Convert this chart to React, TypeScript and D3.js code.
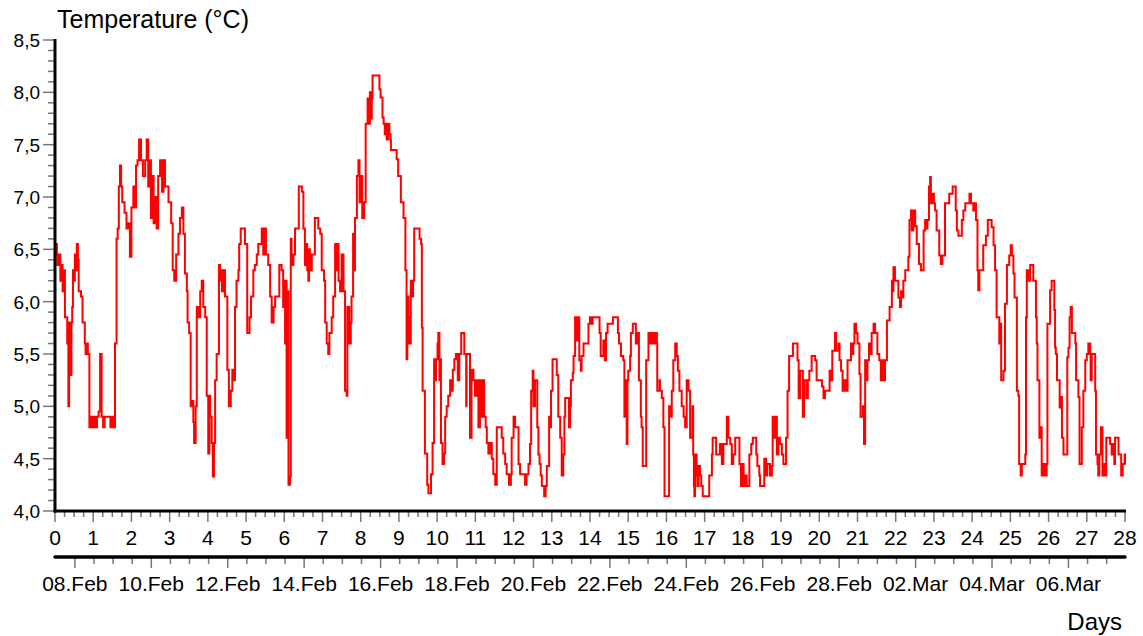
import React from "react";
import * as d3 from "d3";

// readings: [day, °C]
const week1: [number, number][] = [
  [0.0, 6.35], [0.02, 6.55], [0.05, 6.45], [0.08, 6.35], [0.11, 6.45], [0.14, 6.2], [0.17, 6.35], [0.2, 6.1],
  [0.23, 6.3], [0.26, 5.85], [0.32, 5.6], [0.35, 5.0], [0.37, 5.8], [0.4, 5.3], [0.43, 5.8], [0.45, 5.95],
  [0.47, 6.3], [0.5, 6.2], [0.52, 6.45], [0.55, 6.3], [0.57, 6.55], [0.6, 6.4], [0.62, 6.1], [0.68, 6.05],
  [0.72, 5.8], [0.78, 5.6], [0.8, 5.5], [0.83, 5.6], [0.86, 5.5], [0.9, 4.8], [0.95, 4.9], [0.98, 4.8],
  [1.02, 4.9], [1.06, 4.8], [1.1, 4.9], [1.14, 4.95], [1.18, 5.5], [1.22, 4.9], [1.26, 4.8], [1.3, 4.9],
  [1.45, 4.8], [1.5, 4.9], [1.55, 4.8], [1.57, 5.6], [1.61, 6.6], [1.64, 6.7], [1.67, 7.1], [1.7, 7.3],
  [1.73, 7.1], [1.76, 6.95], [1.82, 6.85], [1.87, 6.7], [1.92, 6.75], [1.96, 6.43], [2.0, 6.9], [2.05, 7.1],
  [2.08, 6.9], [2.12, 7.3], [2.16, 7.35], [2.2, 7.55], [2.25, 7.35], [2.3, 7.2], [2.36, 7.35], [2.4, 7.55],
  [2.44, 7.1], [2.48, 7.35], [2.51, 6.8], [2.55, 7.2], [2.58, 6.75], [2.62, 7.0], [2.66, 6.7], [2.7, 7.2],
  [2.75, 7.35], [2.8, 7.05], [2.84, 7.35], [2.88, 7.1], [2.97, 6.95], [3.04, 6.75], [3.08, 6.3], [3.12, 6.2],
  [3.17, 6.45], [3.23, 6.65], [3.27, 6.8], [3.32, 6.9], [3.36, 6.65], [3.4, 6.27], [3.45, 6.1], [3.47, 5.8],
  [3.51, 5.7], [3.55, 5.0], [3.6, 5.05], [3.62, 4.85], [3.64, 4.65], [3.68, 5.0], [3.71, 5.95], [3.75, 5.85],
  [3.8, 6.1], [3.84, 6.2], [3.88, 5.95], [3.93, 5.85], [3.97, 5.1], [4.01, 4.55], [4.04, 5.1], [4.06, 4.9],
  [4.1, 4.65], [4.13, 4.33], [4.16, 4.65], [4.19, 5.25], [4.23, 5.5], [4.29, 6.35], [4.32, 6.2], [4.34, 6.3],
  [4.37, 6.1], [4.41, 6.3], [4.45, 6.05], [4.51, 5.35], [4.55, 5.0], [4.6, 5.15], [4.64, 5.35], [4.69, 5.25],
  [4.71, 5.95], [4.75, 6.2], [4.8, 6.3], [4.82, 6.55], [4.86, 6.7], [4.97, 6.55], [5.03, 5.7], [5.09, 5.85],
  [5.13, 6.05], [5.19, 6.3], [5.23, 6.35], [5.28, 6.45], [5.32, 6.55], [5.41, 6.7], [5.45, 6.45], [5.48, 6.7],
  [5.52, 6.45], [5.58, 6.35], [5.63, 6.05], [5.67, 5.8], [5.72, 5.95], [5.76, 6.05], [5.87, 6.35], [5.93, 6.3],
  [5.97, 5.95], [6.0, 6.2], [6.02, 5.6], [6.04, 6.2], [6.06, 4.7], [6.09, 6.1], [6.11, 4.25], [6.15, 4.33],
  [6.17, 6.6], [6.19, 6.35], [6.24, 6.45], [6.28, 6.7], [6.38, 7.1], [6.46, 7.05], [6.5, 6.7], [6.54, 6.35],
  [6.57, 6.55], [6.6, 6.3], [6.63, 6.2], [6.65, 6.5], [6.67, 6.3], [6.72, 6.45], [6.8, 6.8], [6.89, 6.7],
  [6.94, 6.65], [6.98, 6.3],
];

const week2: [number, number][] = [
  [7.04, 6.2], [7.07, 5.8], [7.11, 5.6], [7.15, 5.5], [7.18, 5.7], [7.24, 5.85], [7.28, 6.05], [7.33, 6.55],
  [7.36, 6.3], [7.4, 6.55], [7.42, 6.2], [7.46, 6.1], [7.5, 6.45], [7.55, 6.1], [7.59, 5.15], [7.63, 5.1],
  [7.65, 5.95], [7.7, 5.6], [7.74, 5.8], [7.76, 6.05], [7.8, 6.65], [7.83, 6.3], [7.85, 6.8], [7.9, 7.2],
  [7.94, 7.35], [7.97, 6.95], [8.0, 7.2], [8.04, 6.8], [8.09, 6.95], [8.13, 7.7], [8.18, 7.94], [8.22, 7.7],
  [8.24, 8.0], [8.27, 7.75], [8.29, 7.94], [8.31, 8.16], [8.47, 8.16], [8.49, 8.03], [8.52, 7.95], [8.57, 7.76],
  [8.6, 7.7], [8.63, 7.6], [8.65, 7.7], [8.68, 7.55], [8.72, 7.7], [8.75, 7.6], [8.78, 7.55], [8.79, 7.45],
  [8.92, 7.45], [8.94, 7.36], [8.98, 7.2], [9.05, 6.95], [9.12, 6.8], [9.17, 6.3], [9.2, 5.45], [9.22, 6.05],
  [9.25, 5.85], [9.27, 5.6], [9.31, 6.2], [9.34, 6.05], [9.37, 6.2], [9.4, 6.7], [9.54, 6.6], [9.58, 6.55],
  [9.6, 5.75], [9.62, 5.15], [9.68, 4.55], [9.74, 4.25], [9.77, 4.17], [9.84, 4.35], [9.88, 4.65], [9.92, 5.45],
  [9.95, 5.25], [9.97, 5.45], [10.01, 5.6], [10.03, 5.7], [10.06, 5.25], [10.08, 5.45], [10.1, 4.65], [10.14, 4.45],
  [10.18, 4.55], [10.21, 4.9], [10.25, 5.0], [10.29, 5.1], [10.34, 5.25], [10.38, 5.15], [10.41, 5.35], [10.45, 5.45],
  [10.49, 5.5], [10.54, 5.25], [10.58, 5.5], [10.63, 5.7], [10.71, 5.5], [10.76, 5.0], [10.77, 5.5], [10.86, 4.7],
  [10.9, 5.35], [10.95, 5.25], [10.99, 5.1], [11.04, 5.25], [11.08, 4.8], [11.12, 5.25], [11.17, 4.9], [11.19, 5.25],
  [11.23, 4.9], [11.27, 4.8], [11.3, 4.65], [11.34, 4.55], [11.38, 4.65], [11.43, 4.5], [11.47, 4.35], [11.52, 4.25],
  [11.56, 4.8], [11.69, 4.7], [11.73, 4.55], [11.78, 4.45], [11.82, 4.35], [11.88, 4.25], [11.93, 4.35], [11.95, 4.7],
  [12.0, 4.9], [12.04, 4.8], [12.13, 4.45], [12.17, 4.35], [12.3, 4.25], [12.34, 4.35], [12.39, 4.45], [12.43, 4.64],
  [12.46, 5.15], [12.5, 5.34], [12.52, 5.0], [12.56, 5.25], [12.62, 4.8], [12.65, 4.54], [12.68, 4.45], [12.71, 4.34],
  [12.74, 4.24], [12.8, 4.14], [12.84, 4.24], [12.87, 4.43], [12.93, 4.9], [12.96, 4.8], [12.98, 5.15], [13.02, 5.45],
  [13.13, 5.3], [13.17, 4.9], [13.22, 4.7], [13.26, 4.34], [13.3, 4.54], [13.33, 4.9], [13.35, 5.08], [13.45, 4.8],
  [13.48, 5.0], [13.5, 5.25], [13.55, 5.32], [13.57, 5.48], [13.61, 5.85], [13.65, 5.63], [13.7, 5.85], [13.72, 5.44],
  [13.76, 5.34], [13.78, 5.48], [13.83, 5.6], [13.96, 5.79],
];

const week3: [number, number][] = [
  [14.0, 5.85], [14.05, 5.79], [14.07, 5.85], [14.25, 5.7], [14.28, 5.48], [14.35, 5.63], [14.39, 5.44], [14.42, 5.7],
  [14.46, 5.79], [14.6, 5.85], [14.73, 5.7], [14.76, 5.6], [14.81, 5.48], [14.87, 5.44], [14.9, 4.9], [14.94, 5.25],
  [14.96, 4.64], [14.98, 5.25], [15.0, 5.34], [15.05, 5.48], [15.07, 5.7], [15.12, 5.79], [15.2, 5.6], [15.24, 5.7],
  [15.28, 5.25], [15.33, 4.9], [15.35, 4.8], [15.38, 4.43], [15.47, 5.44], [15.53, 5.7], [15.57, 5.6], [15.62, 5.7],
  [15.66, 5.6], [15.7, 5.7], [15.75, 5.6], [15.76, 5.15], [15.82, 5.25], [15.83, 5.15], [15.88, 5.08], [15.92, 4.8],
  [15.95, 4.14], [16.07, 5.0], [16.11, 4.9], [16.14, 5.15], [16.18, 5.44], [16.23, 5.6], [16.27, 5.48], [16.3, 5.34],
  [16.34, 5.15], [16.4, 5.0], [16.45, 4.9], [16.49, 4.8], [16.53, 5.25], [16.58, 5.15], [16.62, 4.7], [16.68, 5.0],
  [16.7, 4.54], [16.72, 4.24], [16.73, 4.14], [16.75, 4.54], [16.79, 4.34], [16.81, 4.24], [16.84, 4.43], [16.88, 4.34],
  [16.91, 4.24], [16.95, 4.14], [17.12, 4.34], [17.19, 4.54], [17.21, 4.7], [17.3, 4.54], [17.4, 4.64], [17.45, 4.45],
  [17.49, 4.64], [17.58, 4.9], [17.62, 4.7], [17.67, 4.64], [17.71, 4.45], [17.75, 4.54], [17.8, 4.7], [17.91, 4.45],
  [17.95, 4.24], [17.99, 4.45], [18.02, 4.24], [18.06, 4.34], [18.1, 4.24], [18.17, 4.54], [18.22, 4.64], [18.26, 4.7],
  [18.35, 4.54], [18.38, 4.43], [18.43, 4.34], [18.45, 4.24], [18.56, 4.5], [18.61, 4.34], [18.64, 4.45], [18.71, 4.34],
  [18.76, 4.43], [18.78, 4.9], [18.83, 4.7], [18.86, 4.9], [18.89, 4.54], [18.93, 4.7], [18.97, 4.64], [19.02, 4.54],
  [19.06, 4.45], [19.13, 4.7], [19.17, 5.15], [19.21, 5.48], [19.31, 5.6], [19.43, 5.44], [19.46, 5.08], [19.5, 5.34],
  [19.57, 4.9], [19.6, 5.25], [19.66, 5.08], [19.7, 5.25], [19.74, 5.34], [19.8, 5.48], [19.89, 5.44], [19.93, 5.25],
  [20.07, 5.19], [20.11, 5.08], [20.15, 5.15], [20.27, 5.34], [20.31, 5.25], [20.34, 5.53], [20.41, 5.7], [20.44, 5.53],
  [20.5, 5.6], [20.53, 5.44], [20.57, 5.34], [20.61, 5.15], [20.65, 5.25], [20.69, 5.15], [20.74, 5.44], [20.83, 5.6],
  [20.87, 5.5], [20.89, 5.6], [20.92, 5.79], [20.96, 5.7],
];

const week4: [number, number][] = [
  [21.0, 5.6], [21.05, 5.31], [21.08, 4.9], [21.14, 5.0], [21.17, 4.64], [21.2, 5.44], [21.22, 5.25], [21.26, 5.44],
  [21.3, 5.6], [21.35, 5.5], [21.37, 5.7], [21.42, 5.79], [21.46, 5.7], [21.52, 5.5], [21.57, 5.44], [21.61, 5.25],
  [21.64, 5.44], [21.68, 5.25], [21.72, 5.44], [21.77, 5.82], [21.84, 5.95], [21.9, 6.2], [21.92, 6.1], [21.94, 6.33],
  [21.98, 6.2], [22.07, 6.04], [22.11, 5.95], [22.14, 6.1], [22.18, 6.04], [22.2, 6.2], [22.25, 6.3], [22.33, 6.43],
  [22.36, 6.78], [22.4, 6.87], [22.42, 6.68], [22.46, 6.87], [22.51, 6.72], [22.55, 6.55], [22.61, 6.36], [22.66, 6.3],
  [22.73, 6.68], [22.77, 6.78], [22.81, 6.7], [22.83, 6.78], [22.87, 7.1], [22.9, 7.19], [22.92, 6.94], [22.96, 7.03],
  [23.0, 6.94], [23.03, 6.87], [23.07, 6.68], [23.14, 6.44], [23.18, 6.36], [23.22, 6.44], [23.29, 6.94], [23.4, 7.03],
  [23.49, 7.1], [23.57, 6.87], [23.6, 6.68], [23.64, 6.63], [23.73, 6.78], [23.77, 6.87], [23.82, 6.94], [23.93, 7.03],
  [23.97, 6.94], [24.03, 6.87], [24.08, 6.94], [24.1, 6.78], [24.14, 6.3], [24.16, 6.11], [24.19, 6.3], [24.29, 6.54],
  [24.36, 6.63], [24.41, 6.78], [24.51, 6.71], [24.56, 6.54], [24.6, 6.3], [24.64, 5.85], [24.71, 5.6], [24.73, 5.79],
  [24.76, 5.25], [24.82, 5.34], [24.86, 5.98], [24.91, 6.35], [24.97, 6.44], [25.01, 6.54], [25.04, 6.44], [25.08, 6.27],
  [25.11, 6.04], [25.17, 5.15], [25.21, 5.1], [25.23, 4.45], [25.27, 4.34], [25.3, 4.45], [25.39, 4.54], [25.41, 5.85],
  [25.43, 6.3], [25.47, 6.2], [25.52, 6.35], [25.6, 6.2], [25.67, 5.85], [25.69, 5.6], [25.71, 5.25], [25.76, 4.7],
  [25.8, 4.8], [25.82, 4.34], [25.87, 4.45], [25.91, 4.34], [25.95, 4.45], [25.97, 5.79], [26.04, 6.11], [26.08, 6.2],
  [26.15, 5.92], [26.17, 5.56], [26.19, 5.5], [26.22, 5.25], [26.29, 4.99], [26.32, 5.09], [26.35, 4.7], [26.39, 4.54],
  [26.49, 5.47], [26.52, 5.56], [26.55, 5.85], [26.58, 5.95], [26.61, 5.7], [26.7, 5.6], [26.72, 5.25], [26.78, 5.09],
  [26.81, 4.45], [26.87, 4.8], [26.91, 5.15], [26.96, 5.44], [27.0, 5.5], [27.04, 5.6], [27.09, 5.5], [27.1, 5.25],
  [27.13, 5.5], [27.22, 5.15], [27.24, 4.54], [27.28, 4.45], [27.3, 4.34], [27.33, 4.54], [27.37, 4.8], [27.41, 4.34],
  [27.45, 4.45], [27.48, 4.34], [27.51, 4.7], [27.61, 4.64], [27.65, 4.54], [27.68, 4.64], [27.72, 4.45], [27.74, 4.7],
  [27.83, 4.54], [27.9, 4.34], [27.94, 4.45], [27.99, 4.54], [28.0, 4.45],
];

const yTickValues = [4.0, 4.5, 5.0, 5.5, 6.0, 6.5, 7.0, 7.5, 8.0, 8.5];
const dayTickValues = d3.range(0, 29);
const dateLabels = [
  "08.Feb", "10.Feb", "12.Feb", "14.Feb", "16.Feb", "18.Feb", "20.Feb",
  "22.Feb", "24.Feb", "26.Feb", "28.Feb", "02.Mar", "04.Mar", "06.Mar",
];
const firstDateAt = 0.52; // 08.Feb 00:00 falls half a day after logging started

const font = "'Liberation Sans', Arial, sans-serif";

export default function App() {
  const width = 1143;
  const height = 636;

  const x = d3.scaleLinear().domain([0, 28]).range([55, 1125]);
  const y = d3.scaleLinear().domain([4, 8.5]).range([511, 40]);

  const readings = [...week1, ...week2, ...week3, ...week4];
  const line = d3
    .line<[number, number]>()
    .x((d) => x(d[0]))
    .y((d) => y(d[1]))
    .curve(d3.curveStepAfter);

  // minor ticks: every 0.1 °C and every quarter day, half-day on the date axis
  const yMinor = d3.range(40, 86).filter((v) => v % 5 !== 0).map((v) => v / 10);
  const dayMinor = d3.range(0, 28 * 4 + 1).filter((v) => v % 4 !== 0).map((v) => v / 4);
  const dateTicks = d3.range(0, 55).map((i) => firstDateAt + i * 0.5);
  const fmt = (v: number) => d3.format(".1f")(v).replace(".", ",");

  const dateAxisY = 557;

  return (
    <svg width={width} height={height} style={{ position: "absolute", left: 0, top: 0, background: "#fff" }}>
      <rect width={width} height={height} fill="#fff" />

      {/* y ticks */}
      <g stroke="#777" strokeWidth={1.5}>
        {yMinor.map((v) => (
          <line key={"ym" + v} x1={48} x2={55} y1={y(v)} y2={y(v)} />
        ))}
        {yTickValues.map((v) => (
          <line key={"yM" + v} x1={43} x2={55} y1={y(v)} y2={y(v)} />
        ))}
      </g>
      <g fontFamily={font} fontSize={19} fill="#000" textAnchor="end">
        {yTickValues.map((v) => (
          <text key={"yl" + v} x={40} y={y(v)} dy="0.36em">
            {fmt(v)}
          </text>
        ))}
      </g>

      {/* day ticks */}
      <g stroke="#777" strokeWidth={1.5}>
        {dayMinor.map((v) => (
          <line key={"dm" + v} x1={x(v)} x2={x(v)} y1={511} y2={517} />
        ))}
        {dayTickValues.map((v) => (
          <line key={"dM" + v} x1={x(v)} x2={x(v)} y1={511} y2={522} />
        ))}
      </g>
      <g fontFamily={font} fontSize={21} fill="#000" textAnchor="middle">
        {dayTickValues.map((v) => (
          <text key={"dl" + v} x={x(v)} y={545}>
            {v}
          </text>
        ))}
      </g>

      {/* date axis */}
      <g stroke="#777" strokeWidth={1.5}>
        {dateTicks.map((v, i) => (
          <line key={"dt" + i} x1={x(v)} x2={x(v)} y1={dateAxisY} y2={i % 4 === 0 ? dateAxisY + 11 : dateAxisY + 7} />
        ))}
      </g>
      <line x1={x(0)} x2={x(28)} y1={dateAxisY} y2={dateAxisY} stroke="#000" strokeWidth={3.5} strokeLinecap="round" />
      <g fontFamily={font} fontSize={21} fill="#000" textAnchor="middle">
        {dateLabels.map((lab, i) => (
          <text key={lab} x={x(firstDateAt + i * 2)} y={591}>
            {lab}
          </text>
        ))}
      </g>

      {/* data */}
      <path d={line(readings) || ""} fill="none" stroke="#ff0000" strokeWidth={2} strokeLinejoin="miter" />

      {/* axis lines */}
      <line x1={55} x2={55} y1={39} y2={512.5} stroke="#000" strokeWidth={3} />
      <line x1={53.5} x2={1126} y1={511} y2={511} stroke="#000" strokeWidth={3} />

      <text x={57} y={28} fontFamily={font} fontSize={25} fill="#000">
        Temperature (°C)
      </text>
      <text x={1122} y={630} fontFamily={font} fontSize={24} fill="#000" textAnchor="end">
        Days
      </text>
    </svg>
  );
}
